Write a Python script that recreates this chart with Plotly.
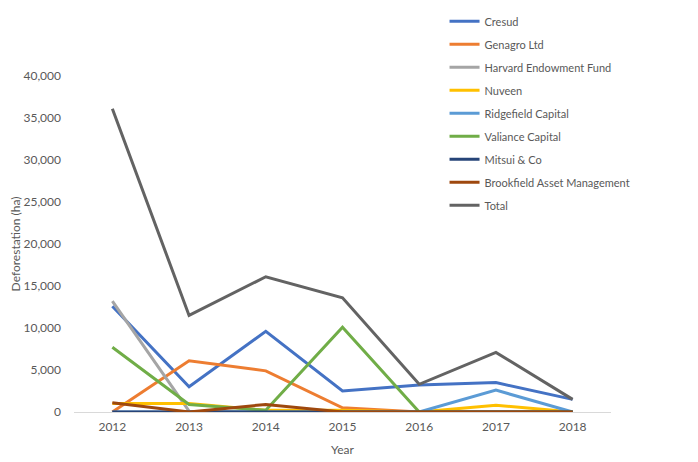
import plotly.graph_objects as go

years = ["2012", "2013", "2014", "2015", "2016", "2017", "2018"]
cresud = [12600, 3000, 9600, 2500, 3200, 3500, 1500]
genagro = [0, 6100, 4900, 500, 0, 0, 0]
harvard = [13200, 100, 0, 0, 0, 0, 0]
nuveen = [1000, 1000, 200, 200, 0, 800, 0]
ridgefield = [0, 0, 0, 0, 0, 2600, 0]
valiance = [7700, 900, 200, 10100, 0, 0, 0]
mitsui = [0, 0, 0, 0, 0, 0, 0]
brookfield = [1100, 0, 900, 0, 0, 0, 0]
total = [36100, 11500, 16100, 13600, 3300, 7100, 1500]

names = ["Cresud", "Genagro Ltd", "Harvard Endowment Fund", "Nuveen", "Ridgefield Capital",
         "Valiance Capital", "Mitsui & Co", "Brookfield Asset Management", "Total"]
series = [cresud, genagro, harvard, nuveen, ridgefield, valiance, mitsui, brookfield, total]
colors = ["#4472C4", "#ED7D31", "#A5A5A5", "#FFC000", "#5B9BD5", "#70AD47", "#264478", "#9E480E", "#636363"]

fig = go.Figure()
for i, (n, s, c) in enumerate(zip(names, series, colors)):
    fig.add_trace(go.Scatter(x=years, y=s, name=n, mode="lines",
                             line=dict(color=c, width=3), legendgroup=str(i)))

font = "Lato, 'Liberation Sans', sans-serif"
fig.update_layout(
    width=698, height=462,
    margin=dict(l=66, r=95, t=68, b=58, autoexpand=False),
    paper_bgcolor="white", plot_bgcolor="white",
    font=dict(family=font, size=12, color="#595959"),
    showlegend=True,
    legend=dict(x=0.69, y=1.206, xanchor="left", yanchor="top",
                font=dict(size=11, color="#595959"), tracegroupgap=4,
                itemwidth=30, bgcolor="rgba(0,0,0,0)"),
    xaxis=dict(type="category", range=[-0.5, 6.5], showline=True, linecolor="#D9D9D9",
               linewidth=1, showgrid=False, ticks="", zeroline=False,
               ticklabelstandoff=4,
               title=dict(text="Year", font=dict(size=12, color="#595959"), standoff=12),
               tickfont=dict(size=12, color="#595959")),
    yaxis=dict(range=[0, 40000], tickvals=[0, 5000, 10000, 15000, 20000, 25000, 30000, 35000, 40000],
               tickformat=",", showgrid=False, zeroline=False, showline=False, ticks="",
               ticklabelstandoff=12,
               title=dict(text="Deforestation (ha)", font=dict(size=12, color="#595959"), standoff=2),
               tickfont=dict(size=12, color="#595959")),
)
fig.write_html("out.html")
